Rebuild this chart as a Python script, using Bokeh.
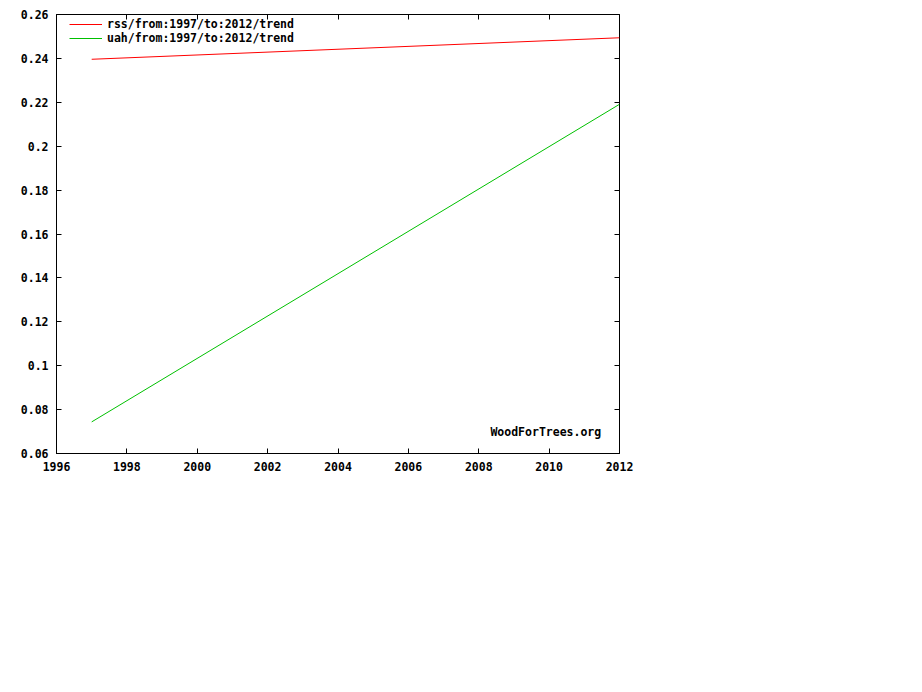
from bokeh.plotting import figure
from bokeh.models import Range1d, FixedTicker, LinearAxis, Legend, LegendItem, Label
from bokeh.embed import file_html
from bokeh.resources import INLINE

# data
years = [1997.0, 2012.0]
rss_trend = [0.2396, 0.2494]
uah_trend = [0.0744, 0.2191]
series_labels = ["rss/from:1997/to:2012/trend", "uah/from:1997/to:2012/trend"]
xticks = [1996, 1998, 2000, 2002, 2004, 2006, 2008, 2010, 2012]
yticks = [0.06, 0.08, 0.10, 0.12, 0.14, 0.16, 0.18, 0.20, 0.22, 0.24, 0.26]
ytick_labels = ["0.06", "0.08", "0.1", "0.12", "0.14", "0.16", "0.18", "0.2", "0.22", "0.24", "0.26"]

FONT = "DejaVu Sans Mono"
FS = "11.5px"

p = figure(width=640, height=480, output_backend="svg", toolbar_location=None,
           x_range=Range1d(1996, 2012), y_range=Range1d(0.06, 0.26),
           min_border_left=56, min_border_right=21, min_border_top=14, min_border_bottom=27)
p.background_fill_color = "white"
p.border_fill_color = "white"
p.outline_line_color = "black"
p.outline_line_width = 1
p.grid.visible = False

r1 = p.line(years, rss_trend, line_color="#ff0000", line_width=1, legend_label=series_labels[0])
r2 = p.line(years, uah_trend, line_color="#00c000", line_width=1, legend_label=series_labels[1])

def style(ax, labels=True):
    ax.major_tick_in = 5
    ax.major_tick_out = 0
    ax.minor_tick_line_color = None
    ax.major_tick_line_color = "black"
    ax.axis_line_color = "black"
    if labels:
        ax.major_label_text_font = FONT
        ax.major_label_text_font_style = "bold"
        ax.major_label_text_font_size = FS
        ax.major_label_text_color = "black"
        ax.major_label_standoff = 8
    else:
        ax.major_label_standoff = 0
        ax.axis_line_color = None

p.xaxis.ticker = FixedTicker(ticks=xticks)
p.yaxis.ticker = FixedTicker(ticks=yticks)
p.yaxis.major_label_overrides = {t: l for t, l in zip(yticks, ytick_labels)}
style(p.xaxis[0])
style(p.yaxis[0])

top = LinearAxis(ticker=FixedTicker(ticks=xticks),
                 major_label_overrides={t: "" for t in xticks})
right = LinearAxis(ticker=FixedTicker(ticks=yticks),
                   major_label_overrides={t: "" for t in yticks})
style(top, labels=False)
style(right, labels=False)
p.add_layout(top, "above")
p.add_layout(right, "right")

legend = p.legend[0]
legend.location = (13, 439 - 31)
legend.padding = 0
legend.margin = 0
legend.spacing = 0
legend.label_height = 14
legend.glyph_height = 14
legend.glyph_width = 33
legend.label_standoff = 5
legend.border_line_alpha = 0
legend.background_fill_alpha = 0
legend.label_text_font = FONT
legend.label_text_font_style = "bold"
legend.label_text_font_size = FS
legend.label_text_color = "black"

p.add_layout(Label(x=2011.48, y=0.0696, text="WoodForTrees.org", text_align="right",
                   text_baseline="middle", text_font=FONT, text_font_style="bold",
                   text_font_size=FS, text_color="black"))

open("out.html", "w").write(file_html(p, INLINE))
